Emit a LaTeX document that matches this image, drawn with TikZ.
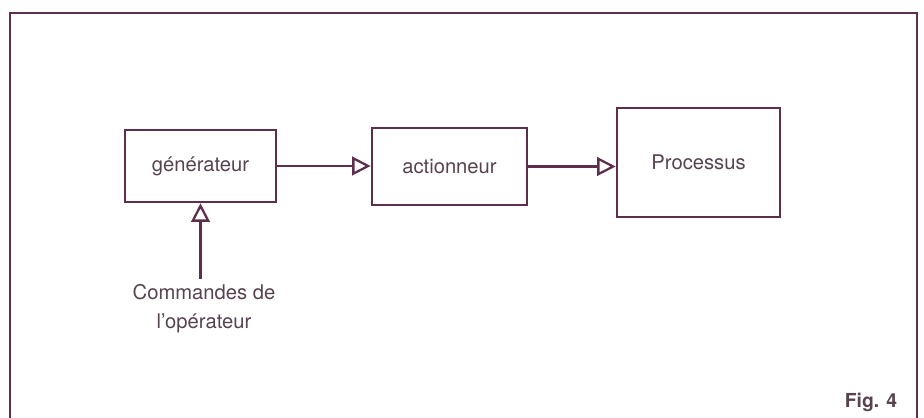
\documentclass[tikz,border=0pt]{standalone}
\usepackage{fontspec}
\setmainfont{TeX Gyre Heros}
\usepackage{tikz}
\usetikzlibrary{arrows.meta}
\usetikzlibrary{positioning}

\definecolor{ink}{HTML}{5E2F4C}
\definecolor{txt}{HTML}{574250}

\tikzset{
  block/.style={rectangle, draw=ink, line width=1.5pt, text=txt, font=\fontsize{11.5}{13}\selectfont},
  flow/.style={draw=ink, line width=1.5pt, -{Triangle[open, length=10.5pt, width=10.5pt, line width=1.3pt]}},
}

\begin{document}
\begin{tikzpicture}[x=0.02cm, y=-0.02cm]
\useasboundingbox (0,0) rectangle (924,418);
% open frame, its lower edge is cut off
\draw [ink, line width=1.3pt] (10,440) -- (10,13) -- (917,13) -- (917,440);

\node [block, minimum width=151*0.02cm, minimum height=72*0.02cm] (gen) at (200.5,166) {générateur};
\node [block, minimum width=155*0.02cm, minimum height=77*0.02cm] (act) at (449.5,166.5) {actionneur};
\node [block, minimum width=163*0.02cm, minimum height=109*0.02cm] (proc) at (698.5,162.5) {Processus};
\node [text=txt, align=center, font=\fontsize{11.5}{16.5}\selectfont] (cmd) at (204,309) {Commandes de\\l'opérateur};
\node [text=txt, font=\fontsize{11}{13}\selectfont\bfseries] (fig) at (871,402) {Fig. 4};

\draw [flow] (gen.east) -- (gen.east -| act.west);
\draw [flow] (act.east) -- (act.east -| proc.west);
\draw [flow] (cmd.north -| gen.south) -- (gen.south);
\end{tikzpicture}
\end{document}
